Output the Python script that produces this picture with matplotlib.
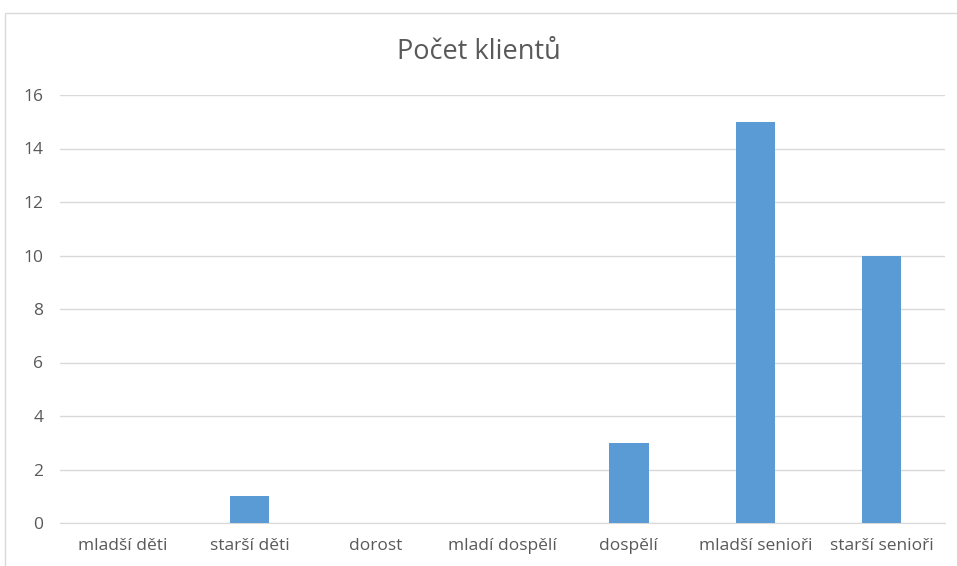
import matplotlib.pyplot as plt
from matplotlib.patches import Rectangle

# ---------- Data ----------
categories = ["mladší děti", "starší děti", "dorost", "mladí dospělí",
              "dospělí", "mladší senioři", "starší senioři"]
counts = [0, 1, 0, 0, 3, 15, 10]
y_ticks = [0, 2, 4, 6, 8, 10, 12, 14, 16]

# ---------- Style ----------
plt.rcParams['font.family'] = ['Open Sans', 'DejaVu Sans']
text_color = '#595959'
bar_color = '#5B9BD5'
grid_color = '#D9D9D9'

fig = plt.figure(figsize=(9.57, 5.66), dpi=100)
ax = fig.add_axes([60 / 957, 1 - 523 / 566, 885 / 957, 428 / 566])

x = range(len(categories))
ax.bar(x, counts, width=0.31, color=bar_color, zorder=3)

ax.set_xlim(-0.5, len(categories) - 0.5)
ax.set_ylim(0, 16)
ax.set_yticks(y_ticks)
ax.set_xticks(list(x))
ax.set_xticklabels(categories)

ax.grid(axis='y', color=grid_color, linewidth=1, zorder=0)
for side in ['top', 'right', 'left']:
    ax.spines[side].set_visible(False)
ax.spines['bottom'].set_color(grid_color)
ax.tick_params(axis='both', length=0, colors=text_color, labelsize=12.5)
ax.tick_params(axis='y', pad=12)
ax.tick_params(axis='x', pad=11)

fig.text(0.5, 1 - 52 / 566, "Počet klientů", ha='center', va='center',
         fontsize=19.5, color=text_color)

# ---------- Chart frame ----------
fig.patches.append(Rectangle((5 / 957, -0.1), 1.2, (566 - 13) / 566 + 0.1,
                             transform=fig.transFigure, fill=False,
                             edgecolor='#D9D9D9', linewidth=1))

fig.savefig("out.png", dpi=100, facecolor='white')
